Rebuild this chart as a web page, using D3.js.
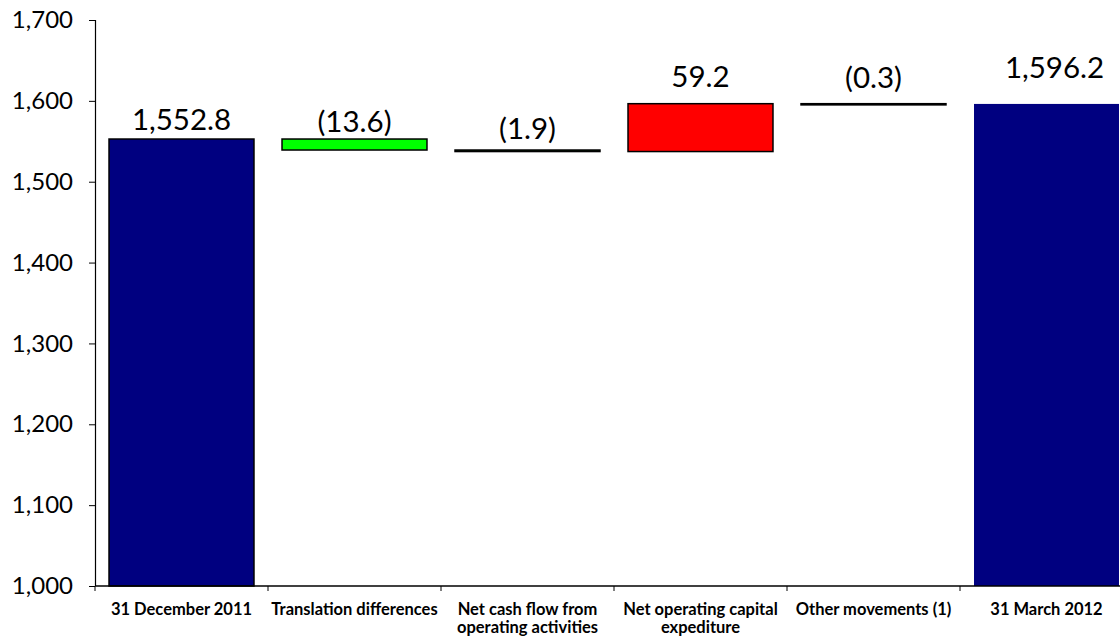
<!DOCTYPE html>
<html>
<head>
<meta charset="utf-8">
<script src="https://cdn.jsdelivr.net/npm/d3@7"></script>
<style>
  html, body { margin: 0; padding: 0; background: #fff; }
  svg { display: block; font-family: "Lato", "DejaVu Sans", sans-serif; }
</style>
</head>
<body>
<svg id="chart" width="1120" height="640"></svg>
<script>
// Net debt bridge, 31 December 2011 -> 31 March 2012
const categories = [
  "31 December 2011",
  "Translation differences",
  "Net cash flow from operating activities",
  "Net operating capital expediture",
  "Other movements (1)",
  "31 March 2012"
];
const categoryLines = [
  ["31 December 2011"],
  ["Translation differences"],
  ["Net cash flow from", "operating activities"],
  ["Net operating capital", "expediture"],
  ["Other movements (1)"],
  ["31 March 2012"]
];
const values = [1552.8, -13.6, -1.9, 59.2, -0.3, 1596.2];
const kinds = ["total", "delta", "delta", "delta", "delta", "total"];
const valueLabels = ["1,552.8", "(13.6)", "(1.9)", "59.2", "(0.3)", "1,596.2"];
const yTicks = [1000, 1100, 1200, 1300, 1400, 1500, 1600, 1700];
const yTickLabels = ["1,000", "1,100", "1,200", "1,300", "1,400", "1,500", "1,600", "1,700"];

const svg = d3.select("#chart");
const plotLeft = 95, plotRight = 1133, plotTop = 20, plotBottom = 586;

const x = d3.scaleBand().domain(categories).range([plotLeft, plotRight])
  .paddingInner(0.162).paddingOuter(0.081);
const y = d3.scaleLinear().domain([1000, 1700]).range([plotBottom, plotTop]);

// running totals for the waterfall segments
let run = 0;
const segs = values.map((v, i) => {
  let lo, hi;
  if (kinds[i] === "total") { lo = 1000; hi = v; run = v; }
  else { const s = run; run = s + v; lo = Math.min(s, run); hi = Math.max(s, run); }
  return { cat: categories[i], v, lo, hi, kind: kinds[i], i };
});

const fill = d => d.kind === "total" ? "#000080" : (d.v < 0 ? "#00ff00" : "#ff0000");

// bars
svg.append("g").selectAll("rect").data(segs).join("rect")
  .attr("x", d => x(d.cat))
  .attr("width", x.bandwidth())
  .attr("y", d => y(d.hi))
  .attr("height", d => Math.max(y(d.lo) - y(d.hi), 1.2))
  .attr("fill", fill)
  .attr("stroke", d => d.i === segs.length - 1 ? "none" : "#000")
  .attr("stroke-width", 1.5);

// value labels above each bar
const lift = [9, 7, 11, 17, 16, 26];
svg.append("g").selectAll("text").data(segs).join("text")
  .attr("x", d => x(d.cat) + x.bandwidth() / 2 + (d.i === 5 ? 8 : 0))
  .attr("y", d => y(d.hi) - lift[d.i])
  .attr("text-anchor", "middle")
  .attr("font-size", 29.5)
  .attr("fill", "#000")
  .text(d => valueLabels[d.i]);

// y axis
const yAxis = svg.append("g").attr("transform", `translate(${plotLeft},0)`)
  .call(d3.axisLeft(y).tickValues(yTicks).tickFormat((d, i) => yTickLabels[i])
    .tickSize(6).tickPadding(16));
yAxis.select(".domain").attr("stroke", "#000").attr("stroke-width", 1.2)
  .attr("d", `M-6,${plotTop + 0.5}H0.5V${plotBottom}`);
yAxis.selectAll(".tick line").attr("stroke", "#000");
yAxis.selectAll(".tick text").attr("font-size", 24).attr("fill", "#000")
  .attr("font-family", "Lato, sans-serif");

// x axis with ticks between categories
const xg = svg.append("g").attr("transform", `translate(0,${plotBottom})`);
xg.append("line").attr("x1", plotLeft).attr("x2", 1120).attr("y1", 0).attr("y2", 0)
  .attr("stroke", "#000").attr("stroke-width", 1.5);
const step = x.step();
xg.selectAll("line.tk").data(categories).join("line").attr("class", "tk")
  .attr("x1", (d, i) => plotLeft + i * step).attr("x2", (d, i) => plotLeft + i * step)
  .attr("y1", 0).attr("y2", 5).attr("stroke", "#000");

const lbl = xg.selectAll("text").data(categories).join("text")
  .attr("text-anchor", "middle")
  .attr("font-size", 16.5)
  .attr("font-weight", 700)
  .attr("fill", "#000")
  .attr("transform", d => `translate(${x(d) + x.bandwidth() / 2},0)`);
lbl.selectAll("tspan").data((d, i) => categoryLines[i]).join("tspan")
  .attr("x", 0)
  .attr("y", (d, j) => 29 + j * 18)
  .text(d => d);
</script>
</body>
</html>
